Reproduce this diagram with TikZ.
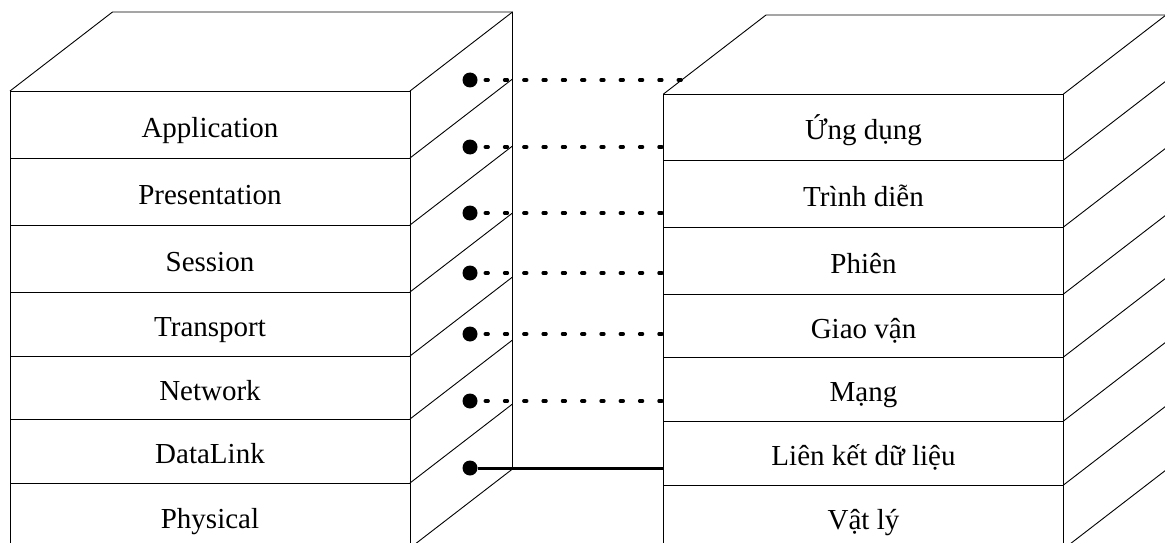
\documentclass[tikz,border=0pt]{standalone}
\usepackage{fontspec}
\setmainfont{Liberation Serif}
\begin{document}
\begin{tikzpicture}[x=1pt,y=-1pt,
  edge/.style={draw=black, line width=0.9pt},
  layer/.style={draw=black, line width=0.9pt, minimum width=400pt, inner sep=0pt, outer sep=0pt,
    font=\fontsize{29}{34}\selectfont, text height=25pt, text depth=0pt},
  dotnode/.style={circle, fill=black, minimum size=15pt, inner sep=0pt, outer sep=0pt},
  dotline/.style={line width=3.3pt, line cap=round, dash pattern=on 3pt off 16.3pt, dash phase=11.6pt},
  solidline/.style={line width=3pt}]
\useasboundingbox (0,0) rectangle (1165,543);

% left stack (front faces)
\foreach \a/\b/\t/\n in {91/158/Application/L1, 158/225/Presentation/L2, 225/292/Session/L3,
  292/356/Transport/L4, 356/419/Network/L5, 419/483/DataLink/L6, 483/548/Physical/L7}
  \node[layer, minimum height={\b-\a}] (\n) at (210,{(\a+\b)/2}) {\t};

% right stack (front faces)
\foreach \a/\b/\t/\n in {94/160/{Ứng dụng}/R1, 160/227/{Trình diễn}/R2, 227/294/{Phiên}/R3,
  294/357/{Giao vận}/R4, 357/421/{Mạng}/R5, 421/485/{Liên kết dữ liệu}/R6, 485/549/{Vật lý}/R7}
  \node[layer, minimum height={\b-\a}] (\n) at (863.5,{(\a+\b)/2}) {\t};

% left stack: top face, back edge, side diagonals
\draw[edge] (L1.north west) -- ++(102.5,-79) -- ++(400,0) coordinate (LBT) -- ++(0,{548-91}) coordinate (LBB);
\draw[edge] (L1.north east) -- (LBT);
\foreach \n in {L1,L2,L3,L4,L5,L6,L7}
  \draw[edge] (\n.south east) -- ++(102.5,-79);

% right stack: top face, back edge, side diagonals
\draw[edge] (R1.north west) -- ++(102.5,-79) -- ++(400,0) coordinate (RBT) -- ++(0,{549-94});
\draw[edge] (R1.north east) -- (RBT);
\foreach \n in {R1,R2,R3,R4,R5,R6,R7}
  \draw[edge] (\n.south east) -- ++(102.5,-79);

% dots
\foreach \y/\n in {80/D1, 147/D2, 213/D3, 273/D4, 334/D5, 401/D6, 468/D7}
  \node[dotnode] (\n) at (470,\y) {};

% connector end points on the right stack
\coordinate (E1) at (682.2,80);
\coordinate (E2) at (R1.west |- D2);
\coordinate (E3) at (R1.west |- D3);
\coordinate (E4) at (R1.west |- D4);
\coordinate (E5) at (R1.west |- D5);
\coordinate (E6) at (R1.west |- D6);
\coordinate (E7) at (R1.west |- D7);

\foreach \i in {1,...,6}
  \draw[dotline] (D\i.east) -- (E\i);
\draw[solidline] (D7.east) -- (E7);
\end{tikzpicture}
\end{document}
